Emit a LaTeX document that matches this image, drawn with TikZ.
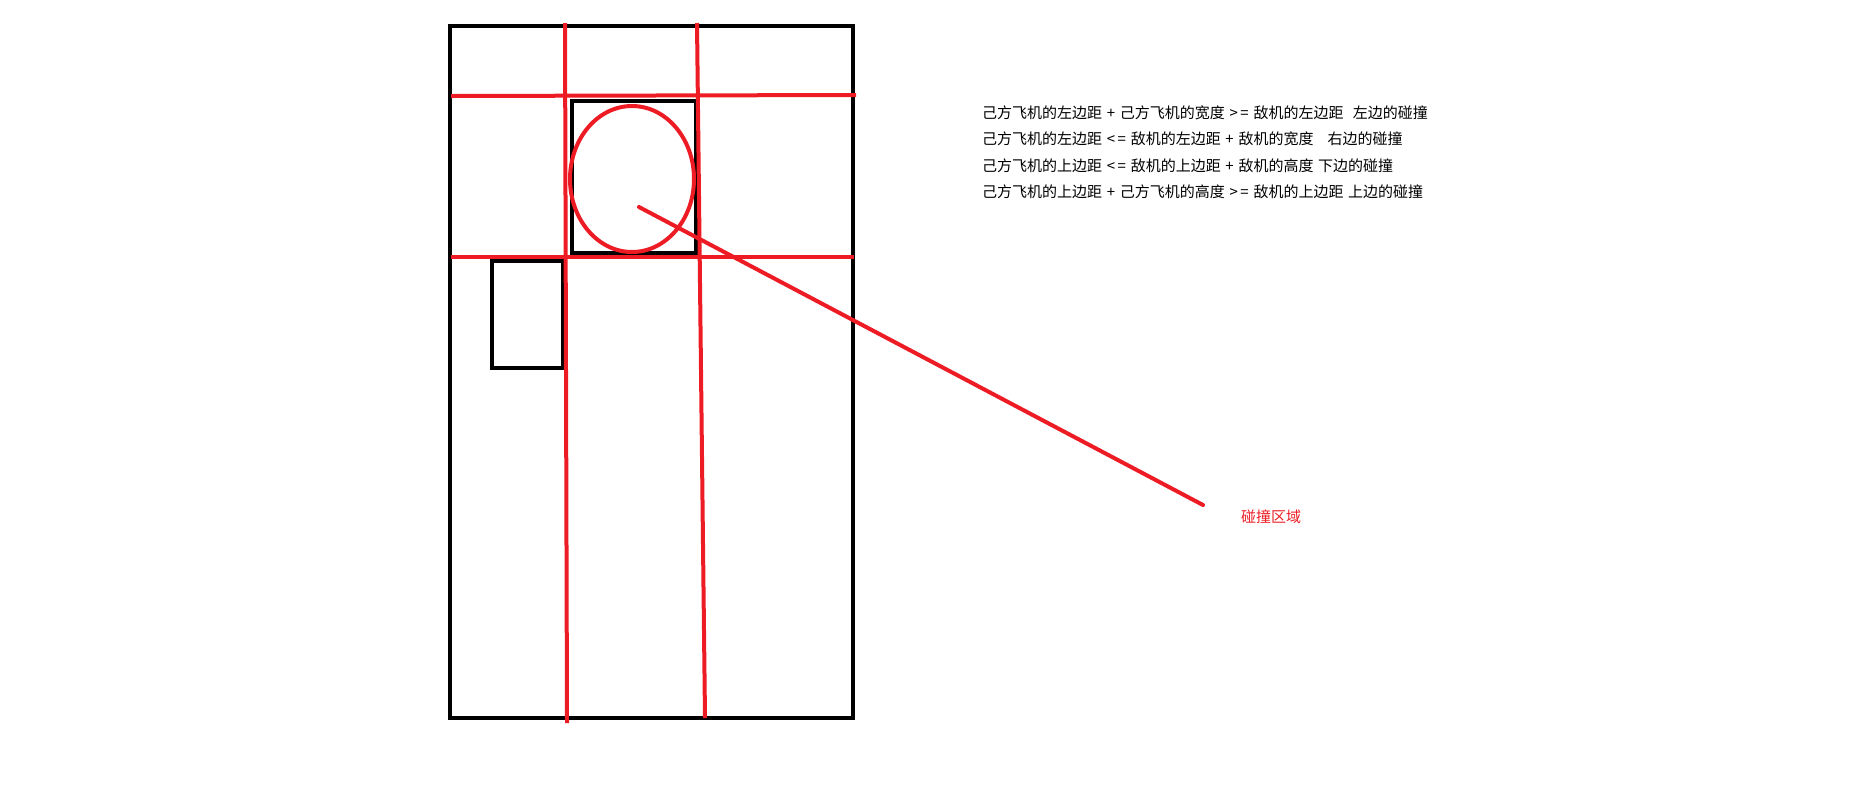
\documentclass[tikz,border=0pt]{standalone}
\usepackage{fontspec}
\newfontfamily\cjk[WordSpace=1.4]{Noto Sans CJK SC}
\definecolor{paintred}{HTML}{ED1C24}
\tikzset{
  frame/.style={draw=black,line width=4.5},
  guide/.style={draw=paintred,line width=4},
  rule/.style={anchor=west,inner sep=0,font=\cjk\fontsize{15}{16}\selectfont}
}
\begin{document}
\begin{tikzpicture}[x=1pt,y=-1pt]
\useasboundingbox (0,0) rectangle (1849,807);
% outer frame
\draw[frame] (450,26) rectangle (853,718);
% enemy plane
\draw[frame] (572,101) rectangle (696,253);
% own plane
\draw[frame] (492,261) rectangle (563,368);
% red guide lines
\draw[guide] (451,96) -- (856,95);
\draw[guide] (451,257) -- (854,257);
\draw[guide] (565,23) -- (567,723);
\draw[guide] (697,23) -- (705,718);
\draw[guide] (632,179) ellipse [x radius=62,y radius=73];
% hit zone
\coordinate (hit) at (639,207);
\coordinate (tip) at (1203,505);
\draw[guide,line cap=round] (hit) -- (tip);
\node[rule,text=paintred] (zone) at (1241,517) {碰撞区域};
% rules
\foreach \i/\y/\txt in {
  1/113/{己方飞机的左边距 + 己方飞机的宽度 >\,= 敌机的左边距\ \ 左边的碰撞},
  2/139/{己方飞机的左边距 <\,= 敌机的左边距 + 敌机的宽度\ \ \ 右边的碰撞},
  3/166/{己方飞机的上边距 <\,= 敌机的上边距 + 敌机的高度 下边的碰撞},
  4/192/{己方飞机的上边距 + 己方飞机的高度 >\,= 敌机的上边距 上边的碰撞}}
  \node[rule] (rule\i) at (982,\y) {\txt};
\end{tikzpicture}
\end{document}
